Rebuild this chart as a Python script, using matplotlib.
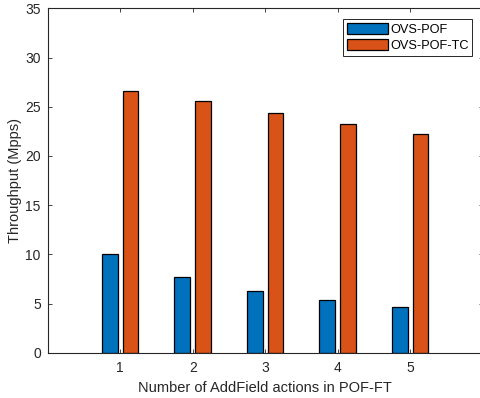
import matplotlib
matplotlib.use("Agg")
import matplotlib.pyplot as plt
import numpy as np

plt.rcParams['font.family'] = ['Liberation Sans', 'DejaVu Sans']

categories = [1, 2, 3, 4, 5]
ovs_pof = [10.0, 7.7, 6.25, 5.38, 4.65]
ovs_pof_tc = [26.6, 25.57, 24.35, 23.27, 22.25]
series_names = ["OVS-POF", "OVS-POF-TC"]
yticks = [0, 5, 10, 15, 20, 25, 30, 35]

blue = "#0072BD"
orange = "#D95319"
axc = "#262626"

fig = plt.figure(figsize=(4.8, 3.98), dpi=100)
ax = fig.add_axes([47.7/480, 1-352.7/398, 435/480, 344.4/398])

x = np.array(categories, dtype=float)
w = 0.22
off = 0.142
ax.bar(x - off, ovs_pof, width=w, color=blue, edgecolor="black", linewidth=0.9,
       label=series_names[0], zorder=3)
ax.bar(x + off, ovs_pof_tc, width=w, color=orange, edgecolor="black", linewidth=0.9,
       label=series_names[1], zorder=3)

ax.set_xlim(0, 6)
ax.set_ylim(0, 35)
ax.set_xticks(categories)
ax.set_yticks(yticks)
ax.tick_params(axis='both', direction='in', length=3, width=0.6, color=axc,
               labelsize=10, labelcolor=axc, top=True, right=True)
ax.tick_params(axis='x', pad=6)
ax.tick_params(axis='y', pad=5)
for s in ax.spines.values():
    s.set_color(axc)
    s.set_linewidth(0.8)
    s.set_zorder(4)

ax.set_xlabel("Number of AddField actions in POF-FT", fontsize=10.5, color=axc, labelpad=4)
ax.set_ylabel("Throughput (Mpps)", fontsize=10.5, color=axc, labelpad=2.5)

leg = ax.legend(loc='upper right', bbox_to_anchor=(0.976, 0.968), fontsize=9.2,
                frameon=True, fancybox=False, shadow=False, framealpha=1,
                handlelength=3.2, handleheight=0.95, handletextpad=0.15,
                labelspacing=0.25, borderpad=0.3, borderaxespad=0)
leg.get_frame().set_edgecolor(axc)
leg.get_frame().set_linewidth(0.7)

fig.savefig("out.png", dpi=100)
